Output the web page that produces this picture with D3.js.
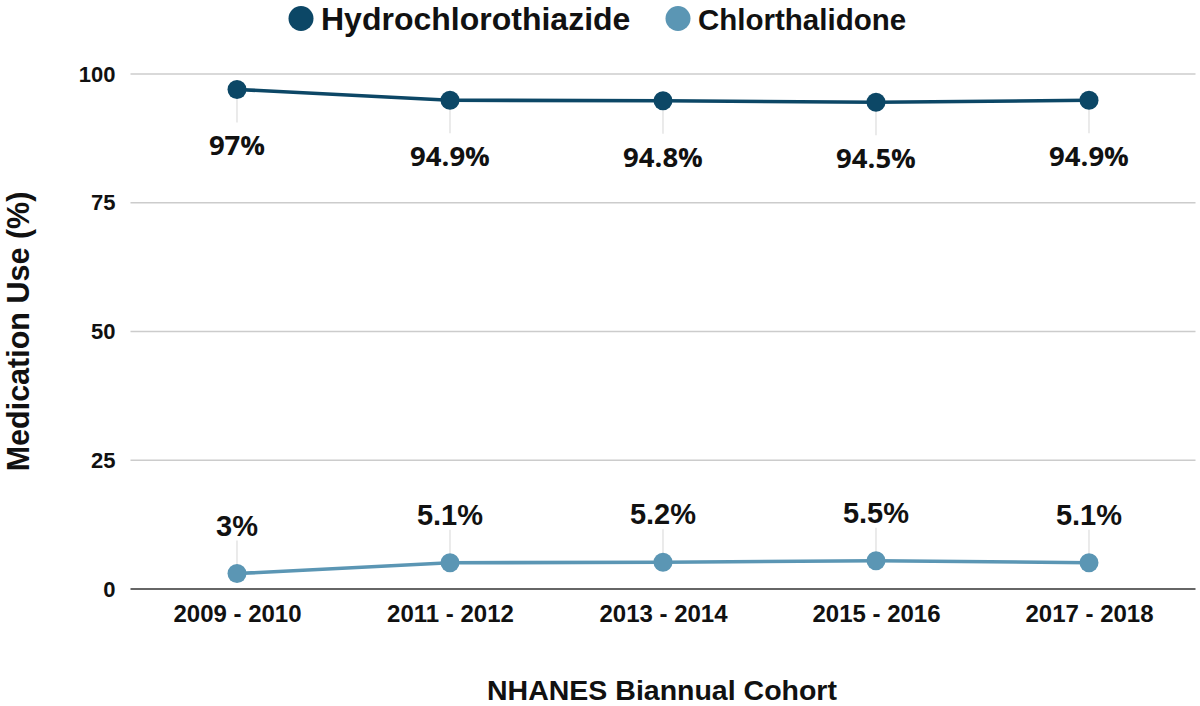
<!DOCTYPE html>
<html><head><meta charset="utf-8">
<script src="https://cdn.jsdelivr.net/npm/d3@7"></script>
<style>body{margin:0;background:#fff}svg{display:block}</style>
</head><body>
<svg id="c" width="1200" height="706"></svg>
<script>
const categories = ["2009 - 2010","2011 - 2012","2013 - 2014","2015 - 2016","2017 - 2018"];
const hctz = [97, 94.9, 94.8, 94.5, 94.9];
const chlor = [3, 5.1, 5.2, 5.5, 5.1];
const hctzLabels = ["97%","94.9%","94.8%","94.5%","94.9%"];
const chlorLabels = ["3%","5.1%","5.2%","5.5%","5.1%"];
const yTicks = [0,25,50,75,100];
const seriesNames = ["Hydrochlorothiazide","Chlorthalidone"];
const colors = ["#0c4766","#5b96b4"];

const svg = d3.select("#c");
const L = 130.5, R = 1195.5, T = 74, B = 589;
const x = d3.scalePoint().domain(categories).range([L, R]).padding(0.5);
const y = d3.scaleLinear().domain([0,100]).range([B, T]);
const bf = "'Liberation Sans', Arial, sans-serif";

// gridlines
svg.append("g").selectAll("line").data(yTicks.filter(d=>d>0)).join("line")
  .attr("x1", L).attr("x2", R).attr("y1", d=>y(d)).attr("y2", d=>y(d))
  .attr("stroke", "#cccccc").attr("stroke-width", 1.5);

// y axis labels
const ya = svg.append("g").attr("transform", `translate(${L},0)`)
  .call(d3.axisLeft(y).tickValues(yTicks).tickSize(0).tickPadding(15));
ya.select(".domain").remove();
ya.selectAll("text").attr("font-family", bf).attr("font-weight", "bold")
  .attr("font-size", 22).attr("fill", "#111");

// x axis
const xa = svg.append("g").attr("transform", `translate(0,${B})`)
  .call(d3.axisBottom(x).tickSize(0).tickPadding(16));
xa.select(".domain").attr("stroke", "#333").attr("stroke-width", 1.5)
  .attr("d", `M${L},0H${R}`);
xa.selectAll("text").attr("font-family", bf).attr("font-weight", "bold")
  .attr("font-size", 24).attr("fill", "#111");

// axis titles
svg.append("text").attr("transform", `translate(29,${(T+B)/2}) rotate(-90)`)
  .attr("text-anchor","middle").attr("font-family", bf).attr("font-weight","bold")
  .attr("font-size", 30.5).attr("fill","#111").text("Medication Use (%)");
svg.append("text").attr("x", 662).attr("y", 700)
  .attr("text-anchor","middle").attr("font-family", bf).attr("font-weight","bold")
  .attr("font-size", 28.5).attr("fill","#111").text("NHANES Biannual Cohort");

// connector lines
const hc = hctz.map((v,i)=>({c:categories[i], v, lab:hctzLabels[i]}));
const cc = chlor.map((v,i)=>({c:categories[i], v, lab:chlorLabels[i]}));
svg.append("g").selectAll("line").data(hc).join("line")
  .attr("x1", d=>x(d.c)).attr("x2", d=>x(d.c))
  .attr("y1", d=>y(d.v)).attr("y2", d=>y(d.v)+33)
  .attr("stroke","#dddddd").attr("stroke-width",1.2);
svg.append("g").selectAll("line").data(cc).join("line")
  .attr("x1", d=>x(d.c)).attr("x2", d=>x(d.c))
  .attr("y1", d=>y(d.v)).attr("y2", d=>y(d.v)-33)
  .attr("stroke","#dddddd").attr("stroke-width",1.2);

const line = d3.line().x(d=>x(d.c)).y(d=>y(d.v));
[[hc,0],[cc,1]].forEach(([data,k])=>{
  svg.append("path").datum(data).attr("d", line).attr("fill","none")
    .attr("stroke", colors[k]).attr("stroke-width", 3.6);
  svg.append("g").selectAll("circle").data(data).join("circle")
    .attr("cx", d=>x(d.c)).attr("cy", d=>y(d.v)).attr("r", 9.5).attr("fill", colors[k]);
});

// data labels
svg.append("g").selectAll("text").data(hc).join("text")
  .attr("x", d=>x(d.c)).attr("y", d=>y(d.v)+66)
  .attr("text-anchor","middle").attr("font-family","'Open Sans', sans-serif")
  .attr("font-weight","bold").attr("font-size", 27.5).attr("fill","#111").text(d=>d.lab);
svg.append("g").selectAll("text").data(cc).join("text")
  .attr("x", d=>x(d.c)).attr("y", d=>y(d.v)-38)
  .attr("text-anchor","middle").attr("font-family", bf)
  .attr("font-weight","bold").attr("font-size", 29).attr("fill","#111").text(d=>d.lab);

// legend
const lg = svg.append("g");
const legX = [301, 678];
const legSize = [32, 29.5];
seriesNames.forEach((n,i)=>{
  lg.append("circle").attr("cx", legX[i]).attr("cy", 18.5).attr("r", 12.5).attr("fill", colors[i]);
  lg.append("text").attr("x", legX[i]+20).attr("y", 29.5).attr("font-family", bf)
    .attr("font-weight","bold").attr("font-size", legSize[i]).attr("fill","#111").text(n);
});
</script>
</body></html>
